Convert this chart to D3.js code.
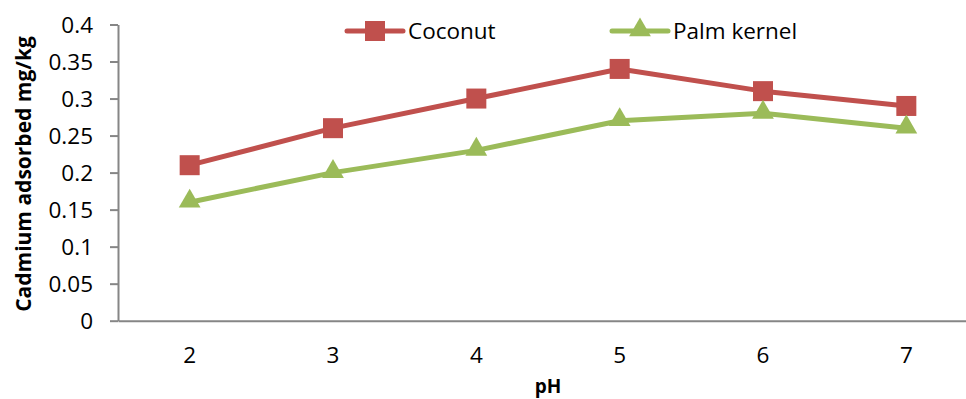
<!DOCTYPE html>
<html>
<head>
<meta charset="utf-8">
<script src="https://cdn.jsdelivr.net/npm/d3@7"></script>
<style>
  html, body { margin: 0; padding: 0; background: #fff; }
  svg { display: block; font-family: "Open Sans", sans-serif; }
</style>
</head>
<body>
<svg id="chart" width="966" height="399"></svg>
<script>
// pH levels on the category axis
const phLevels = ["2", "3", "4", "5", "6", "7"];
// Cadmium adsorbed (mg/kg) for each adsorbent
const coconut = [0.21, 0.26, 0.30, 0.34, 0.31, 0.29];
const palmKernel = [0.16, 0.20, 0.23, 0.27, 0.28, 0.26];
// Value axis ticks
const yTicks = [0, 0.05, 0.1, 0.15, 0.2, 0.25, 0.3, 0.35, 0.4];
const seriesNames = ["Coconut", "Palm kernel"];

const svg = d3.select("#chart");
const plotLeft = 118, plotRight = 978, plotTop = 24.5, plotBottom = 320.7;
const axisColor = "#868686";
const red = "#C0504D", green = "#9BBB59";

const x = d3.scaleBand().domain(phLevels).range([plotLeft, plotRight]).padding(0);
const y = d3.scaleLinear().domain([0, 0.4]).range([plotBottom, plotTop]);
const cx = d => x(d) + x.bandwidth() / 2;

// Value axis
const yAxis = svg.append("g")
  .attr("transform", `translate(${plotLeft},0)`)
  .call(d3.axisLeft(y).tickValues(yTicks).tickSize(8).tickSizeOuter(0).tickPadding(17)
    .tickFormat(d => String(+d.toFixed(2))));
yAxis.select(".domain").attr("stroke", axisColor).attr("stroke-width", 2);
yAxis.selectAll(".tick line").attr("stroke", axisColor).attr("stroke-width", 2);
yAxis.selectAll(".tick text")
  .attr("fill", "#000").attr("font-size", 22.5).attr("font-family", "Open Sans").attr("dy", "0.36em");

// Category axis
const xAxis = svg.append("g")
  .attr("transform", `translate(0,${plotBottom})`)
  .call(d3.axisBottom(x).tickSize(0).tickSizeOuter(0));
xAxis.select(".domain").attr("stroke", axisColor).attr("stroke-width", 2);
xAxis.selectAll(".tick text")
  .attr("fill", "#000").attr("font-size", 22.5).attr("font-family", "Open Sans")
  .attr("y", 42.5).attr("dy", 0);

// Axis titles
svg.append("text")
  .attr("transform", "translate(31,174) rotate(-90)")
  .attr("text-anchor", "middle")
  .attr("font-weight", "bold").attr("font-size", 21)
  .text("Cadmium adsorbed mg/kg");
svg.append("text")
  .attr("x", (plotLeft + plotRight) / 2).attr("y", 393)
  .attr("text-anchor", "middle")
  .attr("font-weight", "bold").attr("font-size", 19)
  .text("pH");

// Series
const line = d3.line().x((d, i) => cx(phLevels[i])).y(d => y(d));
const sq = 20;
const tri = d3.symbol().type(d3.symbolTriangle).size(205);

function drawSeries(values, color, marker) {
  svg.append("path").datum(values)
    .attr("d", line).attr("fill", "none")
    .attr("stroke", color).attr("stroke-width", 5).attr("stroke-linejoin", "round");
  const g = svg.append("g");
  if (marker === "square") {
    g.selectAll("rect").data(values).join("rect")
      .attr("x", (d, i) => cx(phLevels[i]) - sq / 2)
      .attr("y", d => y(d) - sq / 2)
      .attr("width", sq).attr("height", sq).attr("fill", color);
  } else {
    g.selectAll("path").data(values).join("path")
      .attr("d", tri)
      .attr("transform", (d, i) => `translate(${cx(phLevels[i])},${y(d) - 1})`)
      .attr("fill", color);
  }
}
drawSeries(coconut, red, "square");
drawSeries(palmKernel, green, "triangle");

// Legend
const legend = [
  { name: seriesNames[0], color: red, marker: "square", x0: 347, x1: 403, tx: 408 },
  { name: seriesNames[1], color: green, marker: "triangle", x0: 612, x1: 668, tx: 673 }
];
legend.forEach(l => {
  const ly = 31;
  svg.append("line").attr("x1", l.x0).attr("x2", l.x1).attr("y1", ly).attr("y2", ly)
    .attr("stroke", l.color).attr("stroke-width", 5).attr("stroke-linecap", "round");
  const mx = (l.x0 + l.x1) / 2;
  if (l.marker === "square") {
    svg.append("rect").attr("x", mx - sq / 2).attr("y", ly - sq / 2)
      .attr("width", sq).attr("height", sq).attr("fill", l.color);
  } else {
    svg.append("path").attr("d", tri).attr("transform", `translate(${mx},${ly - 1})`)
      .attr("fill", l.color);
  }
  svg.append("text").attr("x", l.tx).attr("y", 38.5)
    .attr("font-size", 22.5).attr("fill", "#000").text(l.name);
});
</script>
</body>
</html>
